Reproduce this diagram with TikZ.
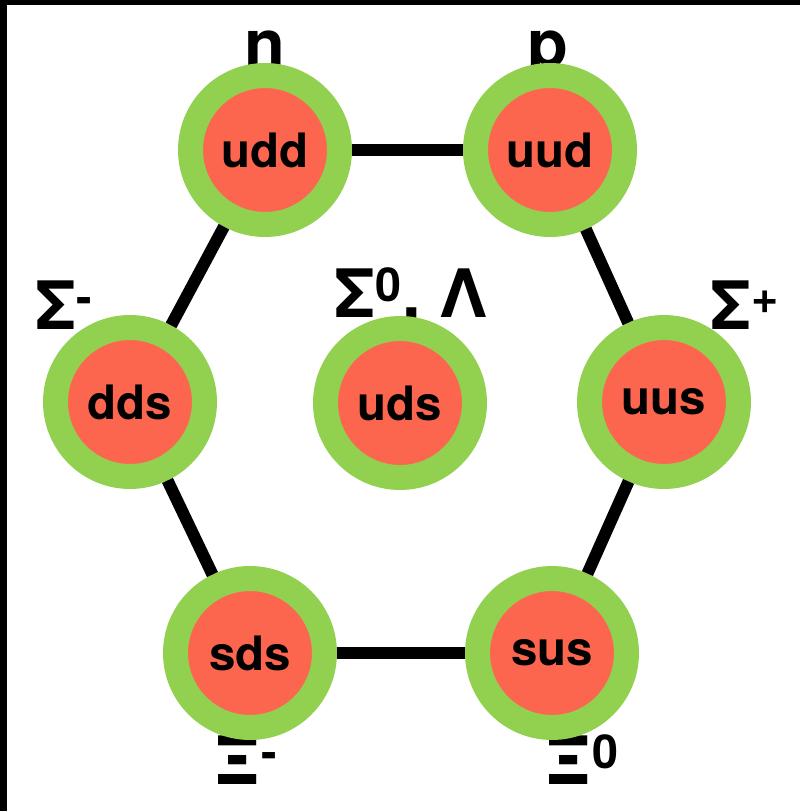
\documentclass[tikz,border=0pt]{standalone}
\usepackage{fontspec}
\setmainfont{TeX Gyre Heros}
\definecolor{ringgreen}{RGB}{146,208,80}
\definecolor{quarkred}{RGB}{252,102,79}
\tikzstyle{baryon} = [circle, fill=quarkred, draw=ringgreen, line width=0.5cm, minimum size=2.98cm, inner sep=0, font=\fontsize{27}{27}\selectfont\bfseries]
\tikzstyle{particle} = [anchor=base, inner sep=0, font=\fontsize{38}{38}\selectfont\bfseries]
\tikzstyle{link} = [line width=0.24cm]

\begin{document}
\begin{tikzpicture}[x=0.02cm, y=-0.02cm]
    \useasboundingbox (0,0) rectangle (800,811);
    \fill[black] (0,0) rectangle (800,5);
    \fill[black] (0,0) rectangle (7,811);

    \node (nname) [particle] at (265,68) {n};
    \node (pname) [particle] at (548,68) {p};
    \node (sigmaminus) [particle] at (64,329) {Σ\textsuperscript{-}};
    \node (sigmazero) [particle] at (411,317) {Σ\textsuperscript{0}, Λ};
    \node (sigmaplus) [particle] at (745,329) {Σ\textsuperscript{+}};
    \node (ximinus) [particle] at (246,784) {Ξ\textsuperscript{-}};
    \node (xizero) [particle] at (582,784) {Ξ\textsuperscript{0}};

    \node (udd) [baryon] at (265,150) {udd};
    \node (uud) [baryon] at (550,150) {uud};
    \node (dds) [baryon] at (130,402) {dds};
    \node (uds) [baryon] at (400,403) {uds};
    \node (uus) [baryon] at (664,402) {uus};
    \node (sds) [baryon] at (250,653) {sds};
    \node (sus) [baryon] at (552,653) {sus};

    \draw [link] (udd) -- (uud);
    \draw [link] (uud) -- (uus);
    \draw [link] (uus) -- (sus);
    \draw [link] (sus) -- (sds);
    \draw [link] (sds) -- (dds);
    \draw [link] (dds) -- (udd);
\end{tikzpicture}
\end{document}
